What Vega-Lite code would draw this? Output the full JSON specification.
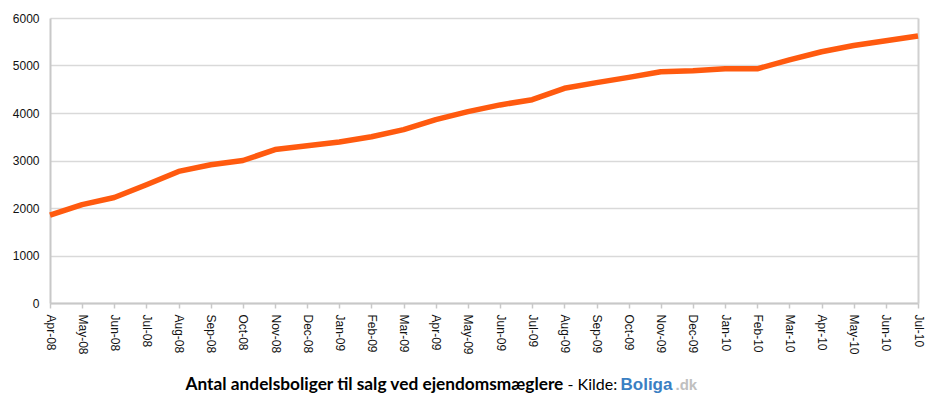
{
  "$schema": "https://vega.github.io/schema/vega-lite/v6.json",
  "autosize": {"type": "none"},
  "width": 868,
  "height": 285,
  "padding": {"left": 50, "top": 18, "right": 25, "bottom": 94},
  "background": "white",
  "config": {"view": {"stroke": null}, "font": "Liberation Sans"},
  "data": {
    "values": [
      {"month": "Apr-08", "value": 1850},
      {"month": "May-08", "value": 2070},
      {"month": "Jun-08", "value": 2220},
      {"month": "Jul-08", "value": 2490},
      {"month": "Aug-08", "value": 2770},
      {"month": "Sep-08", "value": 2910},
      {"month": "Oct-08", "value": 3000},
      {"month": "Nov-08", "value": 3230},
      {"month": "Dec-08", "value": 3310},
      {"month": "Jan-09", "value": 3390},
      {"month": "Feb-09", "value": 3500},
      {"month": "Mar-09", "value": 3650},
      {"month": "Apr-09", "value": 3860},
      {"month": "May-09", "value": 4030},
      {"month": "Jun-09", "value": 4170},
      {"month": "Jul-09", "value": 4280},
      {"month": "Aug-09", "value": 4520},
      {"month": "Sep-09", "value": 4640},
      {"month": "Oct-09", "value": 4750},
      {"month": "Nov-09", "value": 4870},
      {"month": "Dec-09", "value": 4890},
      {"month": "Jan-10", "value": 4930},
      {"month": "Feb-10", "value": 4930},
      {"month": "Mar-10", "value": 5120},
      {"month": "Apr-10", "value": 5290},
      {"month": "May-10", "value": 5420},
      {"month": "Jun-10", "value": 5520},
      {"month": "Jul-10", "value": 5620}
    ]
  },
  "layer": [
    {
      "mark": {"type": "line", "color": "#ff5a0f", "strokeWidth": 5.5, "strokeJoin": "round", "strokeCap": "butt"},
      "encoding": {
        "x": {
          "field": "month",
          "type": "ordinal",
          "sort": null,
          "scale": {"type": "point", "padding": 0},
          "axis": {
            "title": "- Kilde:",
            "titleFont": "Lato",
            "titleFontSize": 16,
            "titleFontWeight": "normal",
            "titleColor": "#000000",
            "titleX": 517,
            "titleY": 86,
            "titleAlign": "left",
            "titleBaseline": "alphabetic",
            "titleAnchor": null,
            "labelAngle": 90,
            "labelFontSize": 12,
            "labelColor": "#111111",
            "labelPadding": 6,
            "labelAlign": "left",
            "labelBaseline": "middle",
            "domainColor": "#c8c8c8",
            "domainWidth": 2,
            "tickColor": "#c8c8c8",
            "tickWidth": 1.5,
            "tickSize": 5,
            "grid": false
          }
        },
        "y": {
          "field": "value",
          "type": "quantitative",
          "scale": {"domain": [0, 6000], "nice": false},
          "axis": {
            "values": [0, 1000, 2000, 3000, 4000, 5000, 6000],
            "format": "d",
            "title": "Boliga",
            "titleAngle": 0,
            "titleX": 570,
            "titleY": 371,
            "titleAlign": "left",
            "titleBaseline": "alphabetic",
            "titleAnchor": null,
            "titleFont": "Liberation Sans",
            "titleFontSize": 17,
            "titleFontWeight": "bold",
            "titleColor": "#3a80c3",
            "labelFontSize": 12,
            "labelColor": "#111111",
            "labelPadding": 11,
            "ticks": false,
            "domainColor": "#c8c8c8",
            "domainWidth": 2,
            "gridColor": "#d9d9d9",
            "gridWidth": 1.5
          }
        }
      }
    },
    {
      "mark": {"type": "line", "strokeOpacity": 0},
      "encoding": {
        "x": {
          "field": "month",
          "type": "ordinal",
          "sort": null,
          "scale": {"type": "point", "padding": 0},
          "axis": {
            "orient": "top",
            "labels": false,
            "ticks": false,
            "domain": false,
            "grid": false,
            "title": "Antal andelsboliger til salg ved ejendomsmæglere",
            "titleFont": "Lato",
            "titleFontSize": 17.3,
            "titleFontWeight": "bold",
            "titleColor": "#000000",
            "titleX": 135,
            "titleY": 371,
            "titleAlign": "left",
            "titleBaseline": "alphabetic",
            "titleAnchor": null
          }
        },
        "y": {
          "field": "value",
          "type": "quantitative",
          "scale": {"domain": [0, 6000], "nice": false},
          "axis": {
            "orient": "right",
            "labels": false,
            "ticks": false,
            "grid": false,
            "domainColor": "#d0d0d0",
            "domainWidth": 2,
            "title": ".dk",
            "titleAngle": 0,
            "titleX": -243,
            "titleY": 371,
            "titleAlign": "left",
            "titleBaseline": "alphabetic",
            "titleAnchor": null,
            "titleFont": "Liberation Sans",
            "titleFontSize": 15,
            "titleFontWeight": "bold",
            "titleColor": "#c0c0c0"
          }
        }
      }
    }
  ],
  "resolve": {"scale": {"x": "independent", "y": "independent"}}
}
